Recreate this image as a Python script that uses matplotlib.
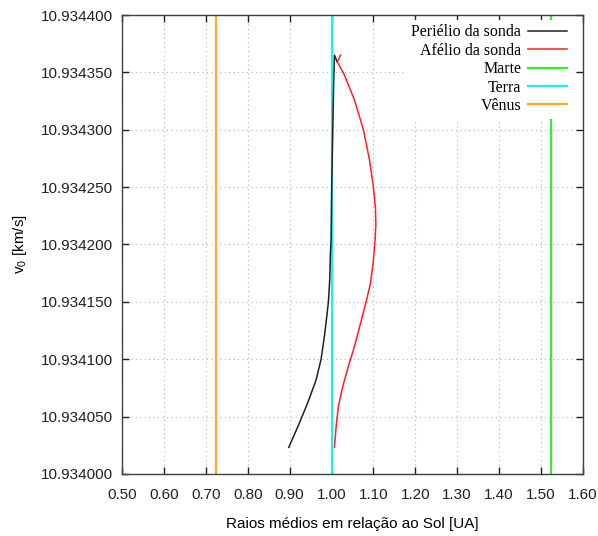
import matplotlib
matplotlib.use('Agg')
import matplotlib.pyplot as plt
from matplotlib.ticker import MultipleLocator, FormatStrFormatter

plt.rcParams['font.family'] = 'Liberation Sans'
plt.rcParams['mathtext.default'] = 'regular'

# Periélio da sonda (x em UA, y = v0 em km/s)
peri_x = [0.8977, 0.9193, 0.9431, 0.9632, 0.9751, 0.9830, 0.9886, 0.9926, 0.9957,
          0.9974, 0.9990, 1.0005, 1.0029, 1.0053, 1.0070, 1.0138]
peri_y = [10.9340232, 10.934041, 10.934062, 10.934082, 10.934100, 10.934120,
          10.934137, 10.934150, 10.934169, 10.934192, 10.934204, 10.934250,
          10.934300, 10.934342, 10.934365, 10.934359]

# Afélio da sonda
afel_x = [1.007, 1.011, 1.0165, 1.0268, 1.0404, 1.0548, 1.0691, 1.0827, 1.0930,
          1.0995, 1.1042, 1.1060, 1.1050, 1.1002, 1.0906, 1.0763, 1.0548, 1.0292,
          1.0138, 1.0213]
afel_y = [10.9340232, 10.934041, 10.934059, 10.934076, 10.934094, 10.934111,
          10.934131, 10.934150, 10.934166, 10.934184, 10.934204, 10.934218,
          10.934232, 10.934250, 10.934274, 10.934300, 10.934326, 10.934349,
          10.934359, 10.934365]

# Raios médios dos planetas
planetas = ['Marte', 'Terra', 'Vênus']
raios = [1.524, 1.000, 0.723]
cores = ['#33ee33', '#22eeee', '#ffaa22']

ymin, ymax = 10.934000, 10.934400

fig = plt.figure(figsize=(5.98, 5.36), dpi=100)
ax = fig.add_axes([0.2045, 0.1157, 0.7697, 0.8563])

ax.plot(peri_x, peri_y, color='#202020', lw=1.1, label='Periélio da sonda', zorder=3)
ax.plot(afel_x, afel_y, color='#ff2020', lw=1.1, label='Afélio da sonda', zorder=3)
for nome, r, c in zip(planetas, raios, cores):
    ax.plot([r, r], [ymin, ymax], color=c, lw=1.6, label=nome, zorder=2)

ax.set_xlim(0.5, 1.6)
ax.set_ylim(ymin, ymax)
ax.xaxis.set_major_locator(MultipleLocator(0.1))
ax.yaxis.set_major_locator(MultipleLocator(0.00005))
ax.xaxis.set_major_formatter(FormatStrFormatter('%.2f'))
ax.yaxis.set_major_formatter(FormatStrFormatter('%.6f'))

ax.grid(True, color='#b0b0b0', lw=0.8, linestyle=(0, (1, 3)), zorder=1)
ax.tick_params(direction='in', length=5, width=1, top=True, right=True,
               labelsize=11, colors='#202020')
ax.tick_params(axis='y', pad=7)
ax.tick_params(axis='x', pad=10)
for s in ax.spines.values():
    s.set_color('#404040')
    s.set_linewidth(1)

ax.set_xlabel('Raios médios em relação ao Sol [UA]', fontsize=11, labelpad=11)
ax.set_ylabel('v$_0$ [km/s]', fontsize=11, labelpad=8)

leg = ax.legend(loc='upper right', bbox_to_anchor=(0.976, 0.99), markerfirst=False,
                prop={'family': 'Liberation Serif', 'size': 11.5},
                frameon=True, facecolor='white', edgecolor='none', framealpha=1,
                fancybox=False, borderpad=0.3, borderaxespad=0,
                handlelength=2.4, handletextpad=0.45, labelspacing=0.15)
leg.set_zorder(5)

plt.savefig('out.png', dpi=100)
